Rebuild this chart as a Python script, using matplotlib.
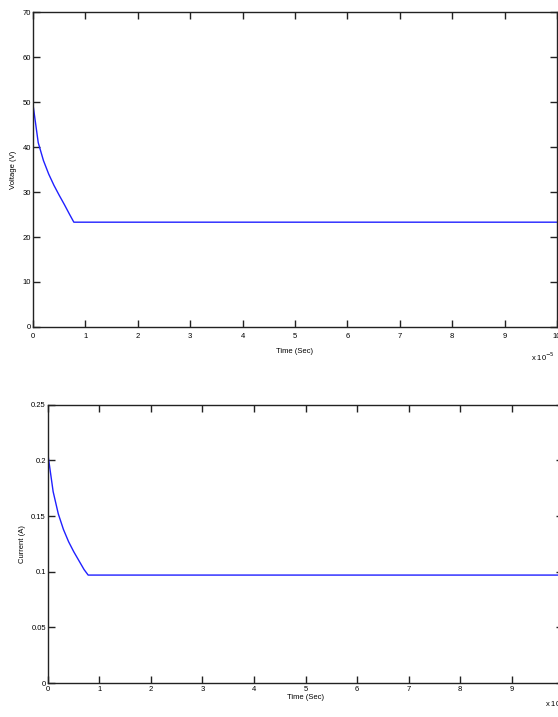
import numpy as np
import matplotlib.pyplot as plt

# time in units of 1e-5 s
t_v = [0, 0, 0.1, 0.2, 0.3, 0.4, 0.5, 0.6, 0.7, 0.78, 10]
voltage = [0, 49.5, 41.0, 37.0, 34.0, 31.5, 29.3, 27.2, 25.0, 23.3, 23.3]

t_i = [0, 0, 0.1, 0.2, 0.3, 0.4, 0.5, 0.6, 0.7, 0.78, 10]
current = [0, 0.205, 0.172, 0.152, 0.138, 0.127, 0.118, 0.110, 0.102, 0.097, 0.097]

x_ticks = list(range(0, 11))
v_ticks = [0, 10, 20, 30, 40, 50, 60, 70]
i_ticks = [0, 0.05, 0.1, 0.15, 0.2, 0.25]
i_tick_labels = ['0', '0.05', '0.1', '0.15', '0.2', '0.25']

plt.rcParams['font.family'] = ['Liberation Sans Narrow', 'Liberation Sans', 'DejaVu Sans']

fig = plt.figure(figsize=(5.58, 7.17), dpi=100)
ax1 = fig.add_axes([0.0591, 0.544, 0.939, 0.439])
ax2 = fig.add_axes([0.086, 0.0474, 0.923, 0.388])


def style(ax, xpad):
    for s in ax.spines.values():
        s.set_linewidth(1.0)
        s.set_color('#222222')
    ax.tick_params(direction='in', length=5, width=1, labelsize=5.5,
                   top=True, right=True, pad=1.5, color='#222222')
    ax.tick_params(axis='x', pad=xpad)
    ax.set_xlim(0, 10)
    ax.set_xticks(x_ticks)
    ax.set_xticklabels([str(x) for x in x_ticks])


ax1.plot(t_v, voltage, color='#2020ff', lw=1.0)
style(ax1, 4)
ax1.set_ylim(0, 70)
ax1.set_yticks(v_ticks)
ax1.set_xlabel('Time (Sec)', fontsize=5.5, labelpad=6)
ax1.set_ylabel('Voltage (V)', fontsize=5.5, labelpad=4)
ax1.text(0.95, -0.095, r'x 10$^{-5}$', transform=ax1.transAxes, fontsize=5.5,
         ha='left', va='center')

ax2.plot(t_i, current, color='#2020ff', lw=1.0)
style(ax2, 2)
ax2.set_ylim(0, 0.25)
ax2.set_yticks(i_ticks)
ax2.set_yticklabels(i_tick_labels)
ax2.set_xlabel('Time (Sec)', fontsize=5.5, labelpad=1)
ax2.set_ylabel('Current (A)', fontsize=5.5, labelpad=4)
ax2.text(0.965, -0.07, r'x 10$^{-5}$', transform=ax2.transAxes, fontsize=5.5,
         ha='left', va='center')

fig.savefig('out.png', dpi=100)
